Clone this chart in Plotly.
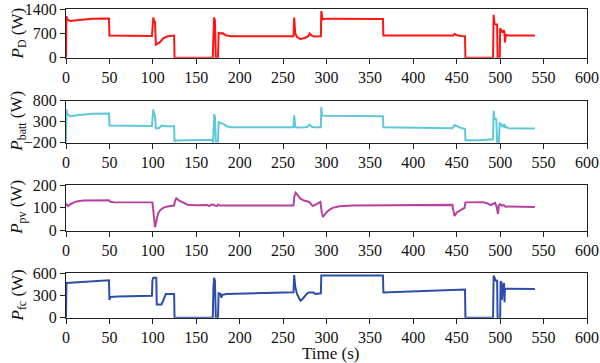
import plotly.graph_objects as go

# ---- data ----
t_d = [0, 0.5, 1.5, 5, 15, 30, 49.5, 50, 99, 99.8, 100.5, 101.5, 102.5, 103.5, 108, 112, 117, 124.5, 125,
       169, 169.8, 170.5, 171.5, 172.5, 175, 175.8, 178, 180, 184, 190, 262, 262.8, 264, 266, 270, 275, 279,
       280.5, 283, 286, 293.5, 294, 295.5, 300, 365, 365.5, 440, 446, 447.5, 450, 455, 459.5, 460, 491.8,
       492.5, 493.5, 495, 496.5, 497, 499.5, 500, 501, 502, 503, 504, 505, 505.5, 506.5, 510, 540]
p_d = [0, 1200, 1110, 1060, 1090, 1125, 1130, 640, 630, 1100, 1160, 1060, 1040, 380, 440, 560, 620, 640, 0,
       0, 1000, 1160, 1080, 0, 0, 720, 700, 710, 650, 620, 620, 1160, 700, 600, 540, 570, 620,
       700, 640, 610, 620, 1350, 1110, 1130, 1120, 640, 640, 640, 690, 650, 630, 620, 0, 0,
       1240, 980, 960, 960, 0, 0, 850, 800, 740, 720, 800, 720, 440, 660, 640, 640]

t_b = [0, 0.5, 1.5, 5, 15, 30, 49.5, 50, 99, 99.8, 100.5, 101.5, 102.5, 103.5, 107, 110, 113, 116, 124.5, 125,
       128, 140, 168.5, 169.3, 170.2, 170.8, 171.5, 172.5, 175, 175.8, 178, 181, 185, 190, 262, 262.8, 264, 266,
       275, 278, 280.5, 283, 286, 293.5, 294, 294.8, 300, 365, 365.5, 440, 445, 447.5, 450, 455, 459.5, 460,
       475, 491.8, 492.5, 493.5, 495.5, 496.5, 498.5, 499.5, 501, 502, 503, 504, 505, 505.5, 506.5, 510, 540]
p_b = [-200, 600, 480, 430, 460, 490, 495, 210, 200, 540, 590, 480, 450, 140, 150, 210, 200, 190, 190, -160,
       -150, -140, -130, -200, 400, 480, 420, -170, -170, 290, 270, 250, 190, 170, 170, 450, 180, 160,
       170, 180, 230, 180, 170, 170, 650, 450, 440, 430, 165, 140, 145, 220, 190, 150, 130, -140,
       -140, -120, 560, 370, 360, -190, -190, 260, 250, 200, 170, 220, 240, 150, 180, 145, 140]

t_pv = [0, 1, 2.5, 6, 12, 20, 49.5, 51, 55, 99.5, 100.5, 101.5, 102.5, 104, 106, 109, 113, 118, 124.5, 125.5,
        127, 130, 135, 140, 150, 163, 165, 167, 170, 172, 174, 175, 177, 180, 262, 263, 264.5, 267, 270, 274,
        278, 280, 282, 284, 288, 293, 294.5, 296, 298, 302, 307, 315, 330, 365, 372, 445, 446, 447.5, 450, 455,
        459, 460, 480, 485, 489, 492, 494, 495.5, 496.5, 497.5, 498.5, 500, 502, 504, 506, 510, 540]
p_pv = [120, 112, 108, 118, 128, 132, 133, 127, 125, 124, 90, 30, 15, 40, 75, 92, 102, 107, 110, 130,
        142, 133, 122, 114, 111, 112, 108, 114, 114, 109, 108, 114, 110, 110, 110, 150, 166, 155, 140, 132,
        129, 126, 117, 108, 115, 126, 80, 60, 72, 88, 100, 107, 110, 110, 113, 113, 90, 64, 80, 93,
        100, 124, 125, 120, 112, 118, 122, 110, 80, 74, 110, 116, 110, 112, 105, 106, 104]

t_fc = [0, 0.5, 49.5, 50, 51, 60, 99, 99.5, 100.5, 104, 104.5, 110, 115, 124.5, 125, 169, 169.8, 170.5, 171.5,
        172.5, 175, 175.8, 178, 179, 180, 185, 262, 262.8, 264, 266, 270, 273, 276, 279, 285, 287, 293.5, 294,
        365, 365.5, 459.5, 460, 491.8, 492.5, 493.5, 495, 496.5, 497, 500, 500.5, 501.5, 502, 503, 504.5, 505,
        505.5, 540]
p_fc = [0, 470, 505, 240, 280, 285, 295, 500, 540, 540, 180, 180, 320, 320, 0, 0, 400, 540, 500,
        0, 0, 330, 320, 270, 310, 320, 345, 575, 420, 320, 230, 260, 305, 340, 340, 320, 330, 570,
        570, 340, 380, 0, 0, 570, 540, 500, 500, 0, 0, 490, 480, 240, 400, 470, 210,
        390, 388]

y_titles = ["<i>P</i><sub>D</sub> (W)", "<i>P</i><sub>batt</sub> (W)",
            "<i>P</i><sub>pv</sub> (W)", "<i>P</i><sub>fc</sub> (W)"]
y_ranges = [[0, 1400], [-200, 800], [0, 200], [0, 600]]
y_ticks = [[0, 700, 1400], [-200, 300, 800], [0, 100, 200], [0, 300, 600]]
x_ticks = list(range(0, 601, 50))
colors = ["#ff1414", "#5ec8da", "#b8429f", "#2d4ea8"]

series = [(t_d, p_d), (t_b, p_b), (t_pv, p_pv), (t_fc, p_fc)]

W, H = 600, 363
ML, MR, MT, MB = 66, 13, 9, 45
PW, PH = W - ML - MR, H - MT - MB
pix = [(9.3, 57.7), (100.7, 142.7), (185.0, 230.7), (273.3, 317.7)]


def py(p):
    return 1 - (p - MT) / PH


def px(p):
    return (p - ML) / PW


domains = [[max(0, py(b)), min(1, py(t))] for (t, b) in pix]

FONT = "Liberation Serif"
fig = go.Figure()
for i, ((tx, vy), col) in enumerate(zip(series, colors)):
    ax = "" if i == 0 else str(i + 1)
    fig.add_trace(go.Scatter(x=tx, y=vy, mode="lines", line=dict(color=col, width=2),
                             xaxis="x" + ax, yaxis="y" + ax, showlegend=False))
    fig.layout["xaxis" + ax] = dict(domain=[0, 1], range=[0, 600], tickvals=x_ticks,
                                    anchor="y" + ax, showline=True, mirror=True, automargin=False,
                                    linecolor="#222", linewidth=1, ticks="outside",
                                    ticklen=5, tickcolor="#222", showgrid=False, zeroline=False,
                                    tickfont=dict(family=FONT, size=16, color="#111"))
    fig.layout["yaxis" + ax] = dict(domain=domains[i], range=y_ranges[i], tickvals=y_ticks[i],
                                    anchor="x" + ax, showline=True, mirror=True, automargin=False,
                                    linecolor="#222", linewidth=1, ticks="outside",
                                    ticklen=5, tickcolor="#222", showgrid=False, zeroline=False,
                                    tickfont=dict(family=FONT, size=16, color="#111"))
    fig.add_annotation(text=y_titles[i], xref="paper", yref="paper", x=px(18),
                       y=sum(domains[i]) / 2, textangle=-90, showarrow=False,
                       xanchor="center", yanchor="middle",
                       font=dict(family=FONT, size=17, color="#111"))

fig.add_annotation(text="Time (s)", xref="paper", yref="paper", x=px(330), y=py(353),
                   showarrow=False, xanchor="center", yanchor="middle",
                   font=dict(family=FONT, size=17, color="#111"))

fig.update_layout(width=W, height=H, margin=dict(l=ML, r=MR, t=MT, b=MB),
                  paper_bgcolor="white", plot_bgcolor="white")
fig.write_html("out.html", config={"displayModeBar": False},
               post_script="document.body.style.margin='0';document.body.style.padding='0';")
